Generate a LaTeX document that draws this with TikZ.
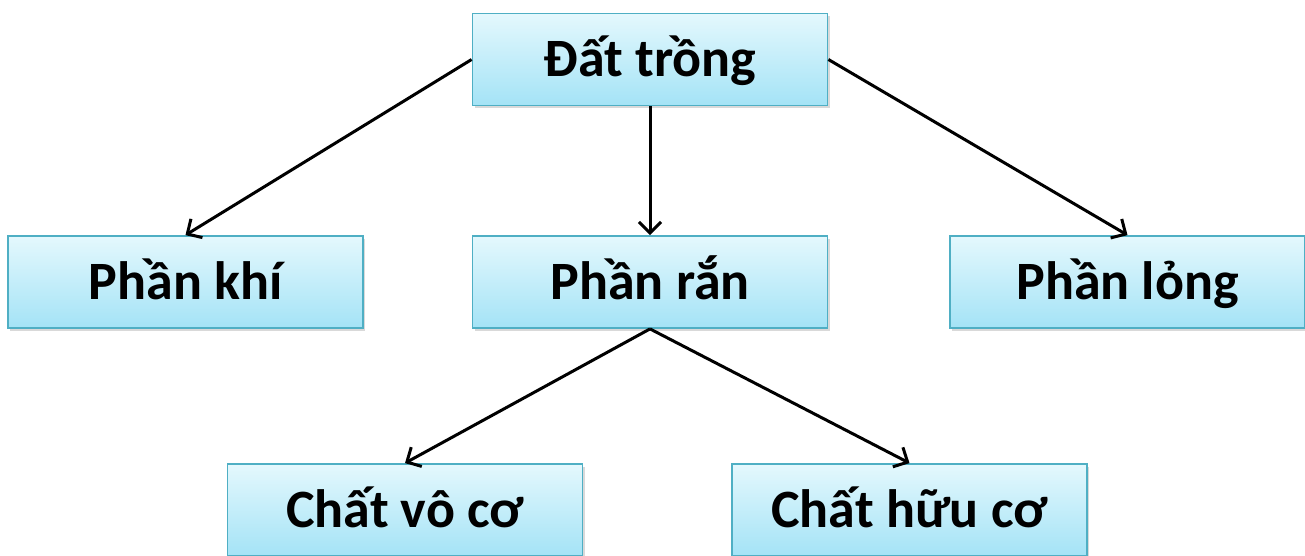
\documentclass[tikz,border=0pt]{standalone}
\usepackage{fontspec}
\setmainfont{Carlito}
\usetikzlibrary{arrows.meta,shadows}
\definecolor{boxtop}{HTML}{E4F8FD}
\definecolor{boxbot}{HTML}{A4E3F6}
\definecolor{boxline}{HTML}{4FAFC4}
\tikzset{
  box/.style={draw=boxline, line width=1.8pt, top color=boxtop, bottom color=boxbot,
    minimum width=355pt, minimum height=92pt, inner sep=0pt,
    text height=34pt, text depth=0pt,
    font=\bfseries\fontsize{54}{60}\selectfont, text=black,
    drop shadow={shadow xshift=2pt, shadow yshift=-3pt, opacity=0.25, fill=black!60}},
  conn/.style={line width=3pt, -{Straight Barb[length=11pt,width=22pt,line width=3pt]}}
}
\begin{document}
\begin{tikzpicture}[x=1pt,y=-1pt]
\useasboundingbox (0,0) rectangle (1305,556);
\node[box] (dat) at (650,59.5) {Đất trồng};
\node[box] (khi) at (185.5,282) {Phần khí};
\node[box] (ran) at (650,282) {Phần rắn};
\node[box] (long) at (1127.5,282) {Phần lỏng};
\node[box] (vo) at (405,510) {Chất vô cơ};
\node[box] (huu) at (909.5,510) {Chất hữu cơ};
\draw[conn] (dat.west) -- (khi.north);
\draw[conn] (dat.south) -- (ran.north);
\draw[conn] (dat.east) -- (long.north);
\draw[conn] (ran.south) -- (vo.north);
\draw[conn] (ran.south) -- (huu.north);
\end{tikzpicture}
\end{document}
